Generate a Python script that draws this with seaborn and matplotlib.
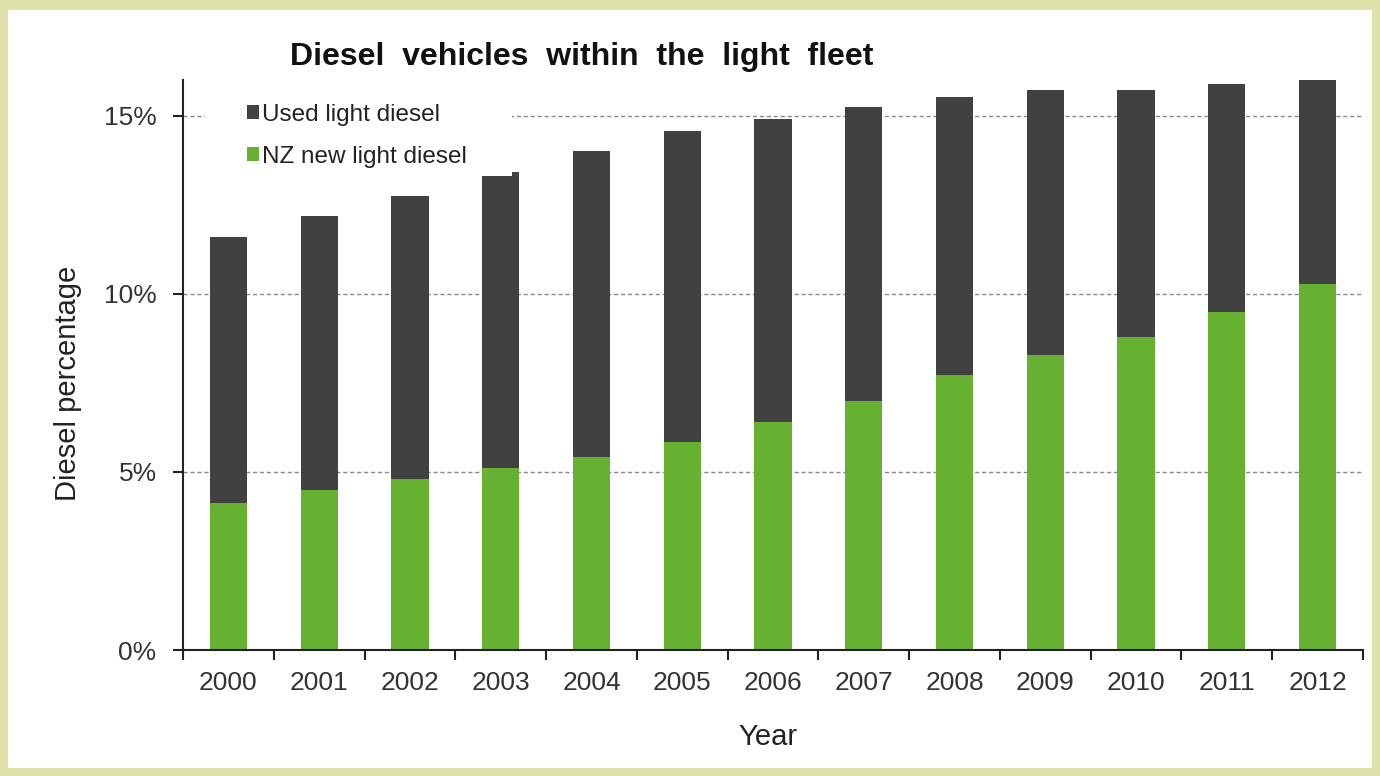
import numpy as np
import pandas as pd
import seaborn as sns
import matplotlib
import matplotlib.pyplot as plt
from matplotlib.patches import Patch, Rectangle

years = ['2000', '2001', '2002', '2003', '2004', '2005', '2006',
         '2007', '2008', '2009', '2010', '2011', '2012']
# total diesel share (%) and NZ-new share (%)
total_diesel = [11.60, 12.19, 12.75, 13.43, 14.00, 14.57, 14.91,
                15.25, 15.53, 15.71, 15.71, 15.88, 15.99]
nz_new_diesel = [4.14, 4.48, 4.81, 5.10, 5.43, 5.83, 6.40,
                 6.98, 7.71, 8.29, 8.78, 9.48, 10.27]

df = pd.DataFrame({'Year': years, 'total': total_diesel, 'nz_new': nz_new_diesel})

sns.set_style('white')
plt.rcParams['font.family'] = ['Liberation Sans', 'DejaVu Sans']

dark = '#414141'
green = '#67b132'
border = '#dfe2a9'

fig = plt.figure(figsize=(13.8, 7.76), dpi=100)
fig.patch.set_facecolor(border)
fig.patches.append(Rectangle((8 / 1380, 8 / 776), 1364 / 1380, 758 / 776,
                             transform=fig.transFigure, facecolor='white',
                             edgecolor='none', zorder=-10))

ax = fig.add_axes([183 / 1380, 1 - 650 / 776, 1180 / 1380, 570 / 776])
ax.set_facecolor('none')

sns.barplot(data=df, x='Year', y='total', color=dark, width=0.41,
            saturation=1, linewidth=0, ax=ax)
sns.barplot(data=df, x='Year', y='nz_new', color=green, width=0.41,
            saturation=1, linewidth=0, ax=ax)

ax.set_ylim(0, 16)
ax.set_xlim(-0.5, len(years) - 0.5)
ax.set_yticks([0, 5, 10, 15])
ax.set_yticklabels(['0%', '5%', '10%', '15%'])
ax.set_xticks(np.arange(len(years)))
ax.set_xticklabels(years)
ax.set_xticks(np.arange(len(years) + 1) - 0.5, minor=True)

ax.yaxis.grid(True, linestyle=(0, (3, 2)), color='#8a8a8a', linewidth=1)
ax.set_axisbelow(True)

for s in ['top', 'right']:
    ax.spines[s].set_visible(False)
for s in ['left', 'bottom']:
    ax.spines[s].set_color('#222222')
    ax.spines[s].set_linewidth(1.5)

ax.tick_params(axis='x', which='major', length=0, pad=15, labelsize=19,
               labelcolor='#333333')
ax.tick_params(axis='x', which='minor', length=7, width=1.5, color='#222222',
               direction='out', bottom=True)
ax.tick_params(axis='y', length=7, width=1.5, color='#222222', direction='out',
               left=True, pad=12, labelsize=19, labelcolor='#333333')

ax.set_xlabel('Year', fontsize=21, color='#222222')
ax.set_ylabel('Diesel percentage', fontsize=21, color='#222222')
ax.xaxis.set_label_coords(0.496, -0.1275)
ax.yaxis.set_label_coords(-0.0856, 0.467)

fig.text(582 / 1380, 1 - 57 / 776, 'Diesel  vehicles  within  the  light  fleet',
         ha='center', va='center', fontsize=23, fontweight='bold', color='#111111')

# white legend box (it hides the gridline and a sliver of the 2003 bar)
ax.add_patch(Rectangle((0.0186, 0.8316), 0.2602, 0.2, transform=ax.transAxes,
                       facecolor='white', edgecolor='none', zorder=4, clip_on=False))

handles = [Patch(facecolor=dark, edgecolor='none'),
           Patch(facecolor=green, edgecolor='none')]
leg = ax.legend(handles, ['Used light diesel', 'NZ new light diesel'],
                loc='upper left', bbox_to_anchor=(0.0542, 0.958), fontsize=17.5,
                frameon=False, handlelength=0.5, handleheight=0.5,
                handletextpad=0.12, labelspacing=0.82, borderpad=0,
                borderaxespad=0)
for t in leg.get_texts():
    t.set_color('#222222')

fig.savefig('out.png', dpi=100, facecolor=fig.get_facecolor())
